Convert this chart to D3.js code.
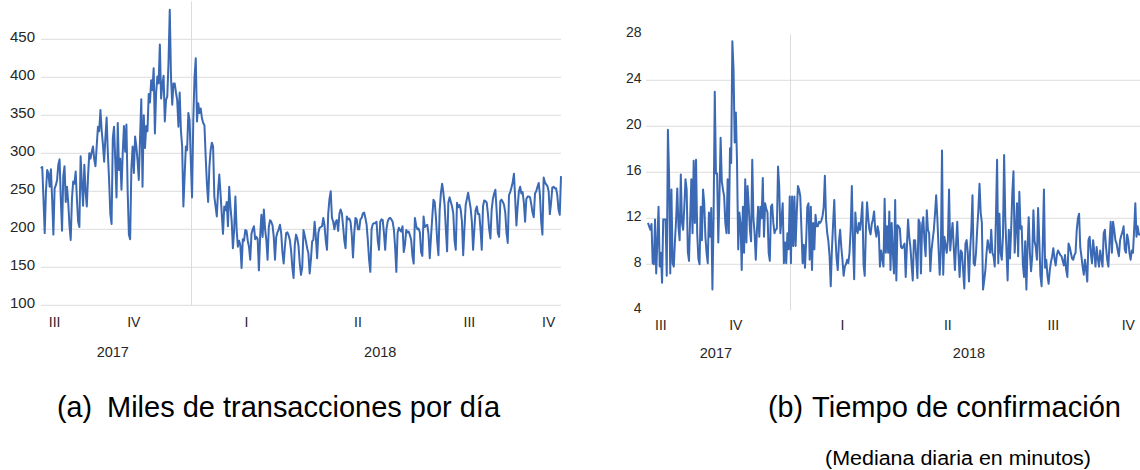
<!DOCTYPE html>
<html>
<head>
<meta charset="utf-8">
<script src="https://cdn.jsdelivr.net/npm/d3@7"></script>
<style>
  html, body { margin: 0; padding: 0; background: #ffffff; }
  svg { display: block; }
  text { font-family: "Liberation Sans", Arial, sans-serif; }
</style>
</head>
<body>
<svg id="chart" width="1140" height="470"></svg>
<script>
// Daily series, first value on this date
const startDate = "2017-09-02";

// Thousands of transactions per day
const transacciones = [
  280,282,240,195,250,278,274,256,279,240,
  193,254,258,265,285,292,240,198,270,283,
  236,256,235,205,186,240,263,260,276,240,
  210,203,296,260,231,285,250,230,270,300,
  293,302,309,292,283,310,335,329,357,330,
  312,289,320,347,300,265,220,207,320,335,
  290,242,340,278,293,252,300,336,302,338,
  250,193,187,280,309,274,322,309,290,265,
  320,371,256,350,307,336,329,378,367,396,
  383,412,326,380,401,392,443,372,390,402,
  342,370,375,420,489,400,364,392,392,380,
  370,335,380,330,309,230,270,309,304,353,
  344,290,242,344,400,425,342,366,353,359,
  346,340,337,296,260,236,282,304,314,309,
  243,230,217,250,272,247,220,194,230,225,
  236,204,256,230,211,175,199,243,200,177,
  185,179,149,187,185,199,198,185,177,160,
  194,200,204,187,190,187,146,190,219,190,
  226,200,186,160,203,212,
  210,205,190,160,190,196,200,206,195,170,
  155,177,195,196,192,186,172,150,136,180,
  193,188,178,155,140,150,199,192,184,175,
  168,142,160,184,186,210,190,162,195,202,
  203,204,215,205,185,173,221,240,250,215,
  210,200,210,212,198,220,226,221,204,185,
  175,217,213,214,210,193,163,195,215,213,
  200,200,213,215,221,222,215,206,185,160,
  144,200,207,208,208,210,185,173,210,213,
  212,195,173,200,210,214,215,213,210,200,
  177,144,195,202,199,197,204,170,180,199,
  196,197,192,186,165,155,215,205,200,201,
  196,170,165,217,203,205,206,193,162,190,
  215,239,236,215,185,166,225,248,260,248,
  232,200,171,235,242,236,230,221,185,173,
  235,229,232,226,210,166,200,232,240,248,
  238,228,210,173,200,225,230,220,220,200,
  173,230,238,237,235,220,200,188,226,240,
  247,252,225,195,190,237,239,236,232,222,
  195,182,245,249,255,262,273,240,205,230,
  250,256,247,249,235,210,240,243,243,242,
  233,222,216,247,250,256,261,245,210,193,
  268,262,259,257,250,220,235,255,256,254,
  254,245,226,219,270
];

// Daily median confirmation time, minutes
const confirmacion = [
  11.6,11.3,11.0,11.5,8.1,8.0,11.9,7.2,10.0,13.0,
  7.8,9.0,6.4,11.9,11.9,11.9,7.0,19.7,15.7,7.2,
  14.5,8.1,7.8,10.0,11.9,14.6,11.3,10.1,15.8,11.6,
  11.0,13.0,15.4,14.5,9.1,8.3,12.0,15.4,10.7,17.0,
  11.6,17.1,10.7,8.5,8.0,13.0,10.1,14.5,13.3,10.4,
  9.0,8.1,12.5,10.4,12.9,5.8,12.2,23.0,15.9,15.9,
  9.9,14.0,19.0,15.2,14.5,13.9,11.6,10.7,15.4,10.7,
  18.1,16.8,27.4,25.0,18.6,21.2,16.8,9.3,12.5,11.6,
  7.5,13.0,9.0,15.4,9.9,14.8,13.0,11.0,10.0,17.1,
  12.0,10.7,8.4,11.0,13.0,10.4,13.0,12.0,15.5,10.4,
  13.3,12.8,12.5,9.0,8.3,13.0,13.2,11.6,10.7,11.0,
  11.1,16.5,14.8,10.7,12.0,13.3,8.1,9.9,8.1,10.7,
  9.3,13.9,8.1,13.9,9.6,13.9,9.6,12.5,14.8,14.5,
  13.9,11.0,8.1,9.7,7.7,10.0,13.0,13.3,8.4,13.0,
  7.5,11.6,9.3,12.3,11.3,11.3,11.7,11.6,11.8,12.2,
  13.0,15.7,11.9,10.7,10.0,8.7,6.1,9.3,11.5,13.6,
  10.4,8.5,7.5,9.9,11.0,9.5,8.4,7.0,7.8,8.0,
  8.4,8.1,9.0,11.0,14.8,10.0,6.7,12.5,11.0,10.7,
  11.6,11.0,12.0,13.4,8.0,7.0,11.0,13.4,12.0,11.0,
  10.6,11.5,11.9,12.6,11.0,10.4,11.3,10.8,
  7.8,9.2,8.5,7.8,13.7,9.0,11.3,9.0,12.6,7.5,
  11.6,9.0,7.2,13.6,6.6,11.4,11.3,11.1,9.5,9.4,
  9.6,9.8,6.9,9.5,11.9,10.4,9.5,8.0,6.6,10.1,
  10.1,8.5,6.8,11.9,11.6,7.2,11.4,12.1,10.0,8.7,
  12.7,11.0,10.7,7.4,9.2,10.1,11.0,12.4,14.0,12.0,
  9.5,7.1,9.2,17.9,7.1,10.4,9.7,9.0,10.1,14.5,
  9.2,10.5,11.6,9.5,7.5,9.8,11.7,9.0,6.9,9.2,
  9.0,7.5,5.9,9.8,10.1,9.0,6.5,9.2,11.0,14.0,
  8.1,7.9,9.0,11.0,12.7,15.0,12.5,11.6,5.8,6.6,
  7.5,9.0,10.1,9.5,9.0,11.0,9.0,8.7,7.8,12.0,
  17.1,8.1,12.4,9.0,8.4,10.4,17.5,12.0,9.2,6.6,
  11.0,8.5,11.0,14.2,16.1,9.0,11.0,13.3,8.7,14.3,
  11.1,11.3,8.0,6.9,10.0,5.8,9.5,12.1,9.0,7.4,
  8.7,12.7,10.0,9.5,8.4,12.9,10.1,7.0,6.1,9.8,
  14.5,7.7,8.4,7.0,6.3,7.5,8.2,8.7,9.4,8.5,
  7.9,8.8,9.2,9.0,8.8,8.7,8.3,7.9,8.8,7.5,
  6.9,9.8,9.5,9.0,8.5,8.4,8.8,9.0,11.0,12.0,
  12.4,9.5,8.7,7.8,7.1,8.4,7.5,6.5,10.1,10.4,
  9.0,8.1,10.1,9.0,7.8,9.5,8.5,7.8,9.2,8.5,
  7.8,10.7,11.0,9.5,8.4,7.8,10.0,11.7,9.0,11.7,
  11.0,10.1,9.8,9.2,8.7,10.1,10.5,10.8,11.3,9.3,
  9.0,10.6,10.1,9.0,8.4,9.2,9.0,11.0,13.3,10.4,
  11.3,10.6,10.6
];

// Axis ticks
const ticksA = [100, 150, 200, 250, 300, 350, 400, 450];
const ticksB = [4, 8, 12, 16, 20, 24, 28];
const gridB = [8, 12, 16, 20, 24];

// Quarter and year labels, placed at the centre of each period shown
const quarterLabels = ["III", "IV", "I", "II", "III", "IV"];
const quarterDates = ["2017-09-13", "2017-11-16", "2018-02-15", "2018-05-16", "2018-08-14", "2018-10-17"];
const yearLabels = ["2017", "2018"];
const yearDates = ["2017-10-30", "2018-06-03"];
const yearBreak = "2018-01-01";

const captionA = ["(a)", "Miles de transacciones por día"];
const captionB = ["(b)", "Tiempo de confirmación"];
const noteB = "(Mediana diaria en minutos)";

const parse = d3.utcParse("%Y-%m-%d");
const t0 = parse(startDate);

const svg = d3.select("#chart");
const LINE = "#3b69b4";
const GRID = "#dcdcdc";
const TXT = "#262626";

function drawPanel(cfg) {
  const n = cfg.values.length;
  const dates = cfg.values.map((_, i) => d3.utcDay.offset(t0, i));
  const x = d3.scaleUtc().domain([dates[0], dates[n - 1]]).range([cfg.x0, cfg.x1]);
  const y = d3.scaleLinear().domain(cfg.yDomain).range([cfg.y0, cfg.y1]);
  const g = svg.append("g");

  // horizontal gridlines
  g.selectAll("line.grid").data(cfg.grid).join("line")
    .attr("x1", cfg.gx0).attr("x2", cfg.x1)
    .attr("y1", d => y(d)).attr("y2", d => y(d))
    .attr("stroke", GRID).attr("stroke-width", 1);

  // year boundary
  const xb = Math.round(x(parse(yearBreak))) + 0.5;
  g.append("line")
    .attr("x1", xb).attr("x2", xb)
    .attr("y1", y(cfg.yDomain[1])).attr("y2", y(cfg.yDomain[0]))
    .attr("stroke", GRID).attr("stroke-width", 1);

  // value axis labels
  g.selectAll("text.ytick").data(cfg.ticks).join("text")
    .attr("x", cfg.labelX).attr("y", d => y(d) + 3)
    .attr("text-anchor", "end")
    .attr("font-size", cfg.tickSize)
    .attr("fill", TXT)
    .text(d => d);

  // series
  const line = d3.line()
    .x((d, i) => x(dates[i]))
    .y(d => y(d));
  g.append("path")
    .datum(cfg.values)
    .attr("d", line)
    .attr("fill", "none")
    .attr("stroke", LINE)
    .attr("stroke-width", 2)
    .attr("stroke-linejoin", "round");

  // quarter labels
  g.selectAll("text.q").data(quarterLabels).join("text")
    .attr("x", (d, i) => x(parse(quarterDates[i])))
    .attr("y", cfg.qY)
    .attr("text-anchor", "middle")
    .attr("font-size", 14)
    .attr("fill", TXT)
    .text(d => d);

  // year labels
  g.selectAll("text.yr").data(yearLabels).join("text")
    .attr("x", (d, i) => x(parse(yearDates[i])))
    .attr("y", cfg.yrY)
    .attr("text-anchor", "middle")
    .attr("font-size", 14.5)
    .attr("fill", TXT)
    .text(d => d);
}

drawPanel({
  values: transacciones, yDomain: [100, 500], ticks: ticksA, grid: ticksA,
  x0: 41, x1: 561, gx0: 41, y0: 305.3, y1: 1.3,
  labelX: 35, tickSize: 15, qY: 327, yrY: 357
});

drawPanel({
  values: confirmacion, yDomain: [4, 28], ticks: ticksB, grid: gridB,
  x0: 648, x1: 1140, gx0: 646, y0: 310.3, y1: 34.3,
  labelX: 641.5, tickSize: 14, qY: 329.5, yrY: 358
});

// captions: label "(a)"/"(b)" followed by the panel title, in a narrow face
function caption(parts, xa, xaEnd, xb, xe, yBase) {
  svg.append("text").attr("x", xa).attr("y", yBase)
    .attr("font-size", 29.5).attr("fill", "#000")
    .attr("textLength", xaEnd - xa).attr("lengthAdjust", "spacingAndGlyphs")
    .text(parts[0]);
  svg.append("text").attr("x", xb).attr("y", yBase)
    .attr("font-size", 29.5).attr("fill", "#000")
    .attr("textLength", xe - xb).attr("lengthAdjust", "spacingAndGlyphs")
    .text(parts[1]);
}
caption(captionA, 57, 92, 107, 500, 417);
caption(captionB, 768, 803, 812, 1121, 417);

svg.append("text").attr("x", 825).attr("y", 465)
  .attr("font-size", 20).attr("fill", "#000")
  .attr("textLength", 1091 - 825).attr("lengthAdjust", "spacingAndGlyphs")
  .text(noteB);
</script>
</body>
</html>
